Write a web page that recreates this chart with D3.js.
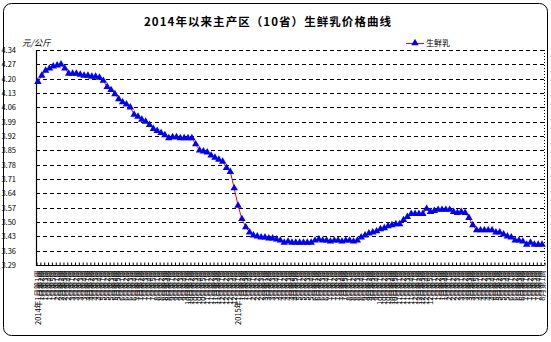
<!DOCTYPE html>
<html><head><meta charset="utf-8">
<script src="https://cdn.jsdelivr.net/npm/d3@7"></script>
<style>
html,body{margin:0;padding:0;background:#fff;}
svg{display:block;}
text{font-family:"Noto Sans CJK SC","Liberation Sans",sans-serif;}
</style></head>
<body>
<svg id="c" width="551" height="342"></svg>
<script>
// ---- data ----
const titleText = "2014年以来主产区（10省）生鲜乳价格曲线";
const unitText = "元/公斤";
const seriesName = "生鲜乳";
const yTicks = [4.34,4.27,4.20,4.13,4.06,3.99,3.92,3.85,3.78,3.71,3.64,3.57,3.50,3.43,3.36,3.29];
const years = [2014, 2015, 2016];
const weeksPerMonth2014 = [5,4,4,4,5,4,5,4,4,5,4,4];
const weeksPerMonth2015 = [4,3,4,5,4,4,5,4,4,5,4,5];
const weeksPerMonth2016 = [4,3,5,4,4,4,4,1];
const prices = [
 4.185,4.215,4.24,4.25,4.26,4.265,4.27,4.25,4.225,4.225,
 4.225,4.22,4.215,4.215,4.21,4.21,4.205,4.19,4.16,4.145,
 4.125,4.10,4.085,4.075,4.06,4.025,4.015,4.00,3.99,3.975,
 3.955,3.945,3.935,3.925,3.91,3.915,3.915,3.91,3.91,3.91,
 3.91,3.88,3.85,3.845,3.84,3.825,3.815,3.805,3.795,3.765,
 3.745,3.665,3.58,3.515,3.475,3.45,3.435,3.43,3.425,3.425,
 3.42,3.42,3.415,3.41,3.40,3.405,3.40,3.40,3.40,3.40,
 3.40,3.40,3.41,3.415,3.41,3.41,3.405,3.41,3.41,3.405,
 3.41,3.41,3.405,3.41,3.425,3.435,3.445,3.45,3.455,3.465,
 3.47,3.48,3.485,3.49,3.49,3.51,3.525,3.54,3.54,3.54,
 3.54,3.565,3.55,3.555,3.56,3.56,3.56,3.56,3.55,3.545,
 3.55,3.545,3.52,3.485,3.46,3.46,3.46,3.46,3.46,3.45,
 3.45,3.44,3.43,3.425,3.41,3.41,3.405,3.39,3.40,3.39,
 3.39,3.39
];

// build category labels
const weekTables = [weeksPerMonth2014, weeksPerMonth2015, weeksPerMonth2016];
const labels = [];
weekTables.forEach((tbl, yi) => {
  tbl.forEach((n, mi) => {
    for (let w = 1; w <= n; w++) {
      const first = (mi === 0 && w === 1 && yi < 2);
      labels.push((first ? years[yi] + "年" : "") + (mi + 1) + "月第" + w + "周");
    }
  });
});

// ---- layout ----
const L = 36, R = 544, T = 50, B = 265;
const svg = d3.select("#c");

// outer rounded frame
svg.append("rect").attr("x",3.5).attr("y",3.5).attr("width",544).attr("height",332)
  .attr("rx",8).attr("ry",8).attr("fill","none").attr("stroke","#000").attr("stroke-width",1);

const N = prices.length;
const x = d3.scaleBand().domain(d3.range(N)).range([L, R]);
const xb = d3.scaleLinear().domain([0, N]).range([L, R]);
const y = d3.scaleLinear().domain([3.29, 4.34]).range([B, T]);
const cx = i => x(i) + x.bandwidth() / 2;
const snap = v => Math.round(v) + 0.5;

// gridlines
svg.append("g").selectAll("line").data(yTicks.filter(t => t !== 3.29)).join("line")
  .attr("x1", L).attr("x2", R)
  .attr("y1", d => snap(y(d))).attr("y2", d => snap(y(d)))
  .attr("stroke", "#000").attr("stroke-width", 1).attr("stroke-dasharray", "4,3");

// right dotted border
svg.append("line").attr("x1", R + 0.5).attr("x2", R + 0.5).attr("y1", T).attr("y2", B)
  .attr("stroke", "#000").attr("stroke-dasharray", "1,2");

// y axis labels
const yAxis = d3.axisLeft(y).tickValues(yTicks).tickSize(0).tickPadding(20)
  .tickFormat(d3.format(".2f"));
const gy = svg.append("g").attr("transform", `translate(${L},0)`).call(yAxis);
gy.select(".domain").remove();
gy.selectAll("text").attr("font-family", "'Liberation Sans',sans-serif")
  .attr("font-size", 7.5).attr("fill", "#000");
// left axis line
svg.append("line").attr("x1", L + 0.5).attr("x2", L + 0.5).attr("y1", T).attr("y2", B + 1)
  .attr("stroke", "#000").attr("stroke-width", 1.2);

// x axis line with category boundary ticks
const xTickAxis = d3.axisBottom(xb).tickValues(d3.range(N + 1)).tickSize(-3).tickFormat("");
const gxt = svg.append("g").attr("transform", `translate(0.5,${B + 0.5})`).call(xTickAxis);
gxt.select(".domain").attr("stroke", "#000").attr("d", `M${L},0H${R}`);
gxt.selectAll(".tick line").attr("stroke", "#000");

// x labels
const xAxis = d3.axisBottom(x).tickSize(0).tickFormat(i => labels[i]);
const gx = svg.append("g").attr("transform", `translate(0,${B})`).call(xAxis);
gx.select(".domain").remove();
gx.selectAll("text")
  .attr("font-size", 7.5).attr("fill", "#000")
  .attr("text-anchor", "end")
  .attr("transform", "rotate(-90)")
  .attr("x", -5).attr("y", 0).attr("dy", "0.35em");

// series line
const line = d3.line().x((d, i) => cx(i)).y(d => y(d));
svg.append("path").datum(prices).attr("d", line)
  .attr("fill", "none").attr("stroke", "#ff0000").attr("stroke-width", 1);

// markers
const tri = d3.symbol().type(d3.symbolTriangle).size(24);
svg.append("g").selectAll("path").data(prices).join("path")
  .attr("d", tri).attr("transform", (d, i) => `translate(${cx(i)},${y(d)})`)
  .attr("fill", "#0000ff");

// title
svg.append("text").attr("x", 144).attr("y", 26).text(titleText)
  .attr("font-size", 11.5).attr("font-weight", "bold").attr("fill", "#000")
  .attr("textLength", 247).attr("lengthAdjust", "spacing");

// unit
svg.append("text").attr("x", 22).attr("y", 46).text(unitText)
  .attr("font-size", 8.5).attr("font-style", "italic").attr("fill", "#000");

// legend
svg.append("line").attr("x1", 406).attr("x2", 424).attr("y1", 43.5).attr("y2", 43.5)
  .attr("stroke", "#ff0000").attr("stroke-width", 1);
svg.append("path").attr("d", tri).attr("transform", "translate(415,43)").attr("fill", "#0000ff");
svg.append("text").attr("x", 426).attr("y", 46).text(seriesName)
  .attr("font-size", 8).attr("fill", "#000");
</script>
</body></html>
